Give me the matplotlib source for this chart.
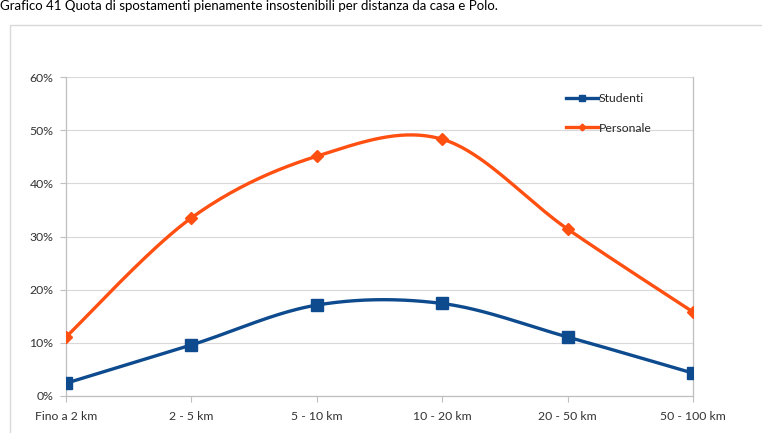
import numpy as np
import matplotlib
matplotlib.use("Agg")
import matplotlib.pyplot as plt
from matplotlib.patches import Rectangle
from matplotlib.ticker import PercentFormatter

categories = ["Fino a 2 km", "2 - 5 km", "5 - 10 km", "10 - 20 km", "20 - 50 km", "50 - 100 km"]
studenti = [2.4, 9.6, 17.1, 17.4, 11.1, 4.3]
personale = [11.1, 33.5, 45.1, 48.3, 31.4, 15.8]
yticks = [0, 10, 20, 30, 40, 50, 60]
title = "Grafico 41 Quota di spostamenti pienamente insostenibili per distanza da casa e Polo."

plt.rcParams['font.family'] = ['Lato', 'DejaVu Sans']


def smooth(xs, ys, n=40):
    xs = np.asarray(xs, float)
    ys = np.asarray(ys, float)
    px = np.concatenate([[xs[0]], xs, [xs[-1]]])
    py = np.concatenate([[ys[0]], ys, [ys[-1]]])
    outx, outy = [], []
    t = np.linspace(0, 1, n)
    for i in range(1, len(px) - 2):
        p0 = np.array([px[i], py[i]])
        p3 = np.array([px[i + 1], py[i + 1]])
        p1 = p0 + (np.array([px[i + 1], py[i + 1]]) - np.array([px[i - 1], py[i - 1]])) / 6
        p2 = p3 - (np.array([px[i + 2], py[i + 2]]) - np.array([px[i], py[i]])) / 6
        b = ((1 - t) ** 3)[:, None] * p0 + (3 * (1 - t) ** 2 * t)[:, None] * p1 + \
            (3 * (1 - t) * t ** 2)[:, None] * p2 + (t ** 3)[:, None] * p3
        outx.extend(b[:, 0])
        outy.extend(b[:, 1])
    return np.array(outx), np.array(outy)


fig = plt.figure(figsize=(7.62, 4.33), dpi=100)
fig.patch.set_facecolor("white")

# chart area border
fig.patches.append(Rectangle((10 / 762, -0.05), 1.0, 1 - 25 / 433 + 0.05, transform=fig.transFigure,
                             fill=False, edgecolor="#d9d9d9", linewidth=1.0))
fig.text(0.0, 0.999, title, fontsize=9.5, va="top", ha="left", color="#000000")

ax = fig.add_axes([66 / 762, 1 - 396 / 433, (693 - 66) / 762, (396 - 77) / 433])
x = np.arange(len(categories))

blue = "#0D4A8E"
orange = "#FF5012"

sx, sy = smooth(x, studenti)
ax.plot(sx, sy, color=blue, lw=2.4, solid_capstyle="round", zorder=3)
ax.plot(x, studenti, ls="none", marker="s", ms=8, color=blue, zorder=4)
px_, py_ = smooth(x, personale)
ax.plot(px_, py_, color=orange, lw=2.4, solid_capstyle="round", zorder=3)
ax.plot(x, personale, ls="none", marker="D", ms=6, color=orange, zorder=4)

# legend proxies
ax.plot([], [], color=blue, lw=2.4, marker="s", ms=4, label="Studenti")
ax.plot([], [], color=orange, lw=2.4, marker="D", ms=3.5, label="Personale")
leg = ax.legend(loc="upper left", bbox_to_anchor=(0.78, 0.985), frameon=False, fontsize=8.8,
                handlelength=2.6, handletextpad=0.1, labelspacing=1.55)
for t in leg.get_texts():
    t.set_color("#262626")

ax.set_xlim(0, 5)
ax.set_ylim(0, 60)
ax.set_yticks(yticks)
ax.yaxis.set_major_formatter(PercentFormatter(decimals=0))
ax.set_xticks(x)
ax.set_xticklabels(categories)
ax.grid(axis="y", color="#d9d9d9", lw=0.8)
ax.set_axisbelow(True)
ax.spines["top"].set_visible(False)
for s in ["left", "bottom", "right"]:
    ax.spines[s].set_color("#bfbfbf")
    ax.spines[s].set_linewidth(0.9)
ax.tick_params(axis="both", colors="#bfbfbf", labelcolor="#333333", labelsize=8.8, length=4, width=0.8)
ax.tick_params(axis="x", pad=7)
ax.tick_params(axis="y", pad=5)

fig.savefig("out.png", dpi=100, facecolor="white")
